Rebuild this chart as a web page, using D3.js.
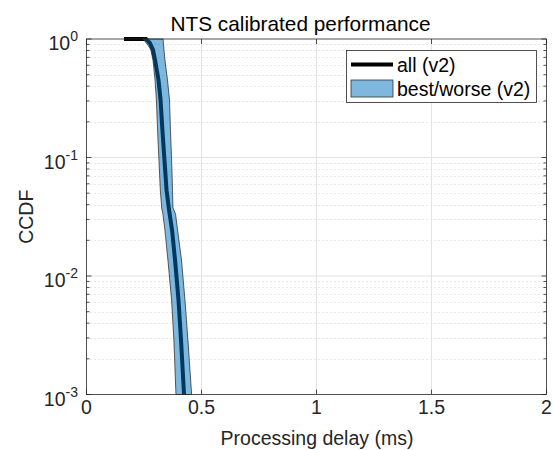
<!DOCTYPE html>
<html>
<head>
<meta charset="utf-8">
<script src="https://cdn.jsdelivr.net/npm/d3@7"></script>
<style>
  html, body { margin: 0; padding: 0; background: #fff; }
  svg { display: block; font-family: "Liberation Sans", Arial, Helvetica, sans-serif; }
</style>
</head>
<body>
<svg id="chart" width="553" height="450"></svg>
<script>
// Median CCDF curve ("all")
const medianCcdf = [1, 1, 0.925, 0.808, 0.665, 0.451, 0.306, 0.171, 0.095, 0.053, 0.036, 0.0244, 0.01365, 0.00627, 0.00288, 0.001];
const medianDelay = [0.163, 0.259, 0.276, 0.289, 0.298, 0.313, 0.322, 0.330, 0.339, 0.348, 0.359, 0.372, 0.385, 0.400, 0.411, 0.424];

// Best / worse envelope
const bandCcdf  = [1, 0.89, 0.808, 0.665, 0.451, 0.306, 0.171, 0.095, 0.053, 0.0375, 0.0335, 0.0244, 0.01365, 0.00627, 0.00288, 0.001];
const bestDelay = [0.246, 0.267, 0.280, 0.289, 0.298, 0.304, 0.309, 0.315, 0.321, 0.327, 0.332, 0.341, 0.354, 0.370, 0.380, 0.389];
const worseDelay= [0.333, 0.335, 0.337, 0.341, 0.352, 0.361, 0.365, 0.370, 0.374, 0.376, 0.387, 0.396, 0.413, 0.428, 0.441, 0.457];

const xTicks = [0, 0.5, 1, 1.5, 2];
const xTickLabels = ["0", "0.5", "1", "1.5", "2"];
const yDecades = [1, 0.1, 0.01, 0.001];
const yTickExponents = ["0", "-1", "-2", "-3"];
const legendLabels = ["all (v2)", "best/worse (v2)"];

const svg = d3.select("#chart");
const L = 86.5, R = 546.5, T = 39, B = 394.5;
const axisColor = "#262626";
const fontSize = 19.5;

const x = d3.scaleLinear().domain([0, 2]).range([L, R]);
const y = d3.scaleLog().domain([0.001, 1]).range([B, T]);

// grid: minor dotted (log), then major solid
const minor = [];
for (const d of [0.001, 0.01, 0.1]) for (let k = 2; k <= 9; k++) minor.push(d * k);
const grid = svg.append("g");
grid.selectAll("line.minor").data(minor).join("line")
  .attr("x1", L).attr("x2", R)
  .attr("y1", d => Math.round(y(d)) + 0.5).attr("y2", d => Math.round(y(d)) + 0.5)
  .attr("stroke", "#c4c4c4").attr("stroke-width", 0.8).attr("stroke-dasharray", "1,3");
grid.selectAll("line.hmaj").data(yDecades.slice(1, 3)).join("line")
  .attr("x1", L).attr("x2", R)
  .attr("y1", d => y(d)).attr("y2", d => y(d))
  .attr("stroke", "#e3e3e3").attr("stroke-width", 1);
grid.selectAll("line.vmaj").data(xTicks.slice(1, 4)).join("line")
  .attr("x1", d => x(d)).attr("x2", d => x(d))
  .attr("y1", T).attr("y2", B)
  .attr("stroke", "#e3e3e3").attr("stroke-width", 1);

// median line (drawn beneath the translucent band)
const line = d3.line().x(d => x(d[0])).y(d => y(d[1]));
svg.append("path")
  .datum(medianDelay.map((v, i) => [v, medianCcdf[i]]))
  .attr("d", line)
  .attr("fill", "none").attr("stroke", "#000").attr("stroke-width", 4);

// band polygon
const bandPts = bestDelay.map((v, i) => [v, bandCcdf[i]])
  .concat(worseDelay.map((v, i) => [v, bandCcdf[i]]).reverse());
svg.append("path")
  .datum(bandPts)
  .attr("d", d => line(d) + "Z")
  .attr("fill", "rgb(0,114,189)").attr("fill-opacity", 0.5)
  .attr("stroke", "#333").attr("stroke-width", 0.8);

// axes box
svg.append("rect").attr("x", L).attr("y", T).attr("width", R - L).attr("height", B - T)
  .attr("fill", "none").attr("stroke", axisColor).attr("stroke-width", 0.8);

// ticks (inside, both sides)
const tk = svg.append("g").attr("stroke", axisColor).attr("stroke-width", 0.8);
xTicks.forEach(t => {
  tk.append("line").attr("x1", x(t)).attr("x2", x(t)).attr("y1", B).attr("y2", B - 5);
  tk.append("line").attr("x1", x(t)).attr("x2", x(t)).attr("y1", T).attr("y2", T + 5);
});
yDecades.forEach(t => {
  tk.append("line").attr("x1", L).attr("x2", L + 5).attr("y1", y(t)).attr("y2", y(t));
  tk.append("line").attr("x1", R).attr("x2", R - 5).attr("y1", y(t)).attr("y2", y(t));
});
minor.forEach(t => {
  tk.append("line").attr("x1", L).attr("x2", L + 3).attr("y1", y(t)).attr("y2", y(t));
  tk.append("line").attr("x1", R).attr("x2", R - 3).attr("y1", y(t)).attr("y2", y(t));
});

// x tick labels
svg.append("g").selectAll("text").data(xTicks).join("text")
  .attr("x", d => x(d)).attr("y", 413.5)
  .attr("text-anchor", "middle").attr("font-size", fontSize).attr("fill", axisColor)
  .text((d, i) => xTickLabels[i]);

// y tick labels 10^k
yDecades.forEach((d, i) => {
  const t = svg.append("text")
    .attr("x", 78).attr("y", y(d) + 11)
    .attr("text-anchor", "end").attr("font-size", fontSize).attr("fill", axisColor);
  t.append("tspan").text("10");
  t.append("tspan").attr("dy", -9).attr("font-size", 14).text(yTickExponents[i]);
});

// axis labels and title
svg.append("text").attr("x", 317).attr("y", 444.5).attr("text-anchor", "middle")
  .attr("font-size", fontSize).attr("fill", axisColor).text("Processing delay (ms)");
svg.append("text").attr("transform", `translate(33,${(T + B) / 2}) rotate(-90)`)
  .attr("text-anchor", "middle").attr("font-size", fontSize).attr("fill", axisColor).text("CCDF");
svg.append("text").attr("x", 300.5).attr("y", 31).attr("text-anchor", "middle")
  .attr("font-size", 20.8).attr("fill", "#000").text("NTS calibrated performance");

// legend
const lg = svg.append("g");
lg.append("rect").attr("x", 346.5).attr("y", 50.5).attr("width", 190).attr("height", 52)
  .attr("fill", "#fff").attr("stroke", axisColor).attr("stroke-width", 0.8);
lg.append("line").attr("x1", 351).attr("x2", 393).attr("y1", 64.5).attr("y2", 64.5)
  .attr("stroke", "#000").attr("stroke-width", 4);
lg.append("rect").attr("x", 351).attr("y", 80).attr("width", 42).attr("height", 17)
  .attr("fill", "rgb(0,114,189)").attr("fill-opacity", 0.5)
  .attr("stroke", "#333").attr("stroke-width", 0.8);
lg.selectAll("text").data(legendLabels).join("text")
  .attr("x", 397).attr("y", (d, i) => 71.5 + i * 24)
  .attr("font-size", fontSize).attr("fill", "#000").text(d => d);
</script>
</body>
</html>
